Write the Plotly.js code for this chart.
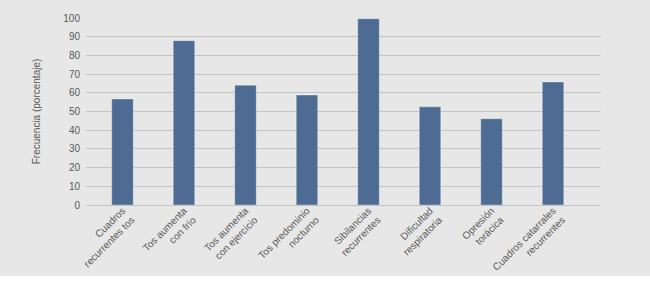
<!DOCTYPE html>
<html>
<head>
<meta charset="utf-8">
<script src="https://cdn.plot.ly/plotly-3.0.1.min.js"></script>
<style>
html, body { margin: 0; padding: 0; background: #ffffff; overflow: hidden; }
#chart { width: 650px; height: 276px; }
</style>
</head>
<body>
<div id="chart"></div>
<script>
var categories = [
  "Cuadros<br>recurrentes tos",
  "Tos aumenta<br>con frío",
  "Tos aumenta<br>con ejercicio",
  "Tos predominio<br>nocturno",
  "Sibilancias<br>recurrentes",
  "Dificultad<br>respiratoria",
  "Opresión<br>torácica",
  "Cuadros catarrales<br>recurrentes"
];
var frecuencia = [56.7, 87.9, 64.1, 58.8, 99.6, 52.5, 46.1, 65.8];
var yTicks = [0, 10, 20, 30, 40, 50, 60, 70, 80, 90, 100];
var yTitle = "Frecuencia (porcentaje)";

var trace = {
  type: "bar",
  x: categories.map(function (c, i) { return i; }),
  y: frecuencia,
  width: 0.35,
  marker: { color: "#4e6b93", line: { color: "rgba(255,255,255,0.35)", width: 1 } },
  hoverinfo: "none"
};

var layout = {
  width: 650,
  height: 276,
  margin: { l: 86, r: 49, t: 18, b: 71 },
  paper_bgcolor: "#e7e7e7",
  plot_bgcolor: "#e7e7e7",
  font: { family: "Liberation Sans, Arial, sans-serif", size: 10, color: "#595959" },
  showlegend: false,
  xaxis: {
    type: "linear",
    range: [-0.593, 7.78],
    tickmode: "array",
    tickvals: categories.map(function (c, i) { return i; }),
    ticktext: categories,
    tickangle: -45,
    showgrid: false,
    zeroline: false,
    showline: false,
    ticks: "",
    ticklabelstandoff: -3,
    tickfont: { size: 10, color: "#595959" }
  },
  yaxis: {
    range: [0, 100],
    tickmode: "array",
    tickvals: yTicks,
    showgrid: true,
    gridcolor: "#c3c3c3",
    gridwidth: 1,
    zeroline: true,
    zerolinecolor: "#c3c3c3",
    zerolinewidth: 1,
    showline: false,
    ticks: "",
    ticklabelstandoff: 5,
    tickfont: { size: 10, color: "#595959" },
    title: { text: yTitle, font: { size: 10, color: "#595959" }, standoff: 20 }
  }
};

Plotly.newPlot("chart", [trace], layout, { displayModeBar: false, staticPlot: true });
</script>
</body>
</html>
